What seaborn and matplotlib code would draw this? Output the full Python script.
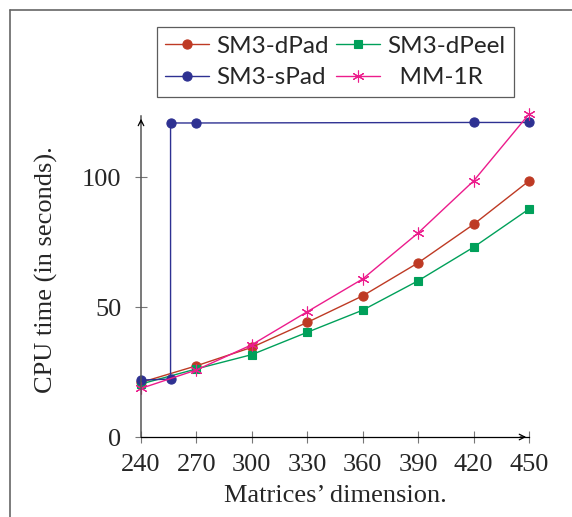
import matplotlib.pyplot as plt
import seaborn as sns
from matplotlib.lines import Line2D

# matrix dimensions and CPU times (seconds)
dims = [240, 270, 300, 330, 360, 390, 420, 450]
dpad = [21.0, 27.4, 34.5, 44.1, 54.3, 67.0, 81.8, 98.5]
dpeel = [20.4, 26.2, 31.7, 40.3, 48.8, 60.1, 73.0, 87.7]
mm1r = [18.7, 25.8, 35.5, 48.2, 60.8, 78.5, 98.5, 124.2]
spad_dims = [240, 256, 256, 270, 420, 450]
spad = [21.9, 22.3, 120.8, 120.8, 121.0, 121.0]

xticks = [240, 270, 300, 330, 360, 390, 420, 450]
yticks = [0, 50, 100]

sns.set_style("ticks")
plt.rcParams['font.family'] = ['Liberation Serif', 'DejaVu Serif']

fig = plt.figure(figsize=(5.72, 5.17), dpi=100, facecolor='w')
ax = fig.add_axes([0.2465, 0.1547, 0.6783, 0.621])

asterisk = (6, 2, 0)
series = [
    (dims, dpad, 'SM3-dPad', '#BE3A24', 'o', 6.6),
    (dims, dpeel, 'SM3-dPeel', '#00A05A', 's', 5.8),
    (spad_dims, spad, 'SM3-sPad', '#2E3192', 'o', 6.6),
    (dims, mm1r, '  MM-1R', '#EC1C8C', asterisk, 8.5),
]
handles = {}
for xs, ys, name, col, mk, ms in series:
    sns.lineplot(x=xs, y=ys, ax=ax, color=col, marker=mk, markersize=ms,
                 markeredgecolor=col, markeredgewidth=0.8, linewidth=1.0,
                 estimator=None, sort=False, clip_on=False, legend=False)
    handles[name] = Line2D([], [], color=col, marker=mk, markersize=ms,
                           markeredgecolor=col, markeredgewidth=0.8,
                           linewidth=1.0, label=name)

ax.set_xlim(240, 450)
ax.set_ylim(0, 123.5)
ax.set_xticks(xticks)
ax.set_yticks(yticks)
ax.tick_params(axis='both', direction='inout', length=8, width=0.8,
               color='#777777', labelsize=19)
ax.tick_params(axis='x', pad=8)
ax.tick_params(axis='y', pad=10)
for s in ['top', 'right']:
    ax.spines[s].set_visible(False)
ax.spines['left'].set_color('#555555')
ax.spines['left'].set_linewidth(1.1)
ax.spines['bottom'].set_color('black')
ax.spines['bottom'].set_linewidth(0.9)
ax.set_facecolor('none')

# axis arrows
ax.annotate('', xy=(1.0, 0), xytext=(0.97, 0), xycoords='axes fraction',
            arrowprops=dict(arrowstyle='->', lw=0.9, color='black'))
ax.annotate('', xy=(0, 1.0), xytext=(0, 0.97), xycoords='axes fraction',
            arrowprops=dict(arrowstyle='->', lw=0.9, color='black'))

ax.set_xlabel('Matrices\u2019 dimension.', fontsize=19)
ax.xaxis.set_label_coords(0.5, -0.148)
ax.set_ylabel('CPU time (in seconds).', fontsize=19)
ax.yaxis.set_label_coords(-0.214, 0.52)

order = ['SM3-dPad', 'SM3-sPad', 'SM3-dPeel', '  MM-1R']
leg = fig.legend(handles=[handles[k] for k in order],
                 ncol=2, loc='lower center', bbox_to_anchor=(0.5857, 0.8124),
                 borderaxespad=0, frameon=True, fancybox=False,
                 edgecolor='#333333', handlelength=1.8, handletextpad=0.3,
                 columnspacing=0.3, borderpad=0.35, labelspacing=0.45,
                 prop={'family': 'Lato', 'size': 17.5})
leg.get_frame().set_linewidth(0.9)

# page border lines
fig.add_artist(Line2D([10 / 572, 1], [1 - 10 / 517, 1 - 10 / 517],
                      color='#666666', lw=1.2))
fig.add_artist(Line2D([10 / 572, 10 / 572], [0, 1 - 10 / 517],
                      color='#666666', lw=1.2))

fig.savefig('out.png', dpi=100, facecolor='w')
plt.close()
